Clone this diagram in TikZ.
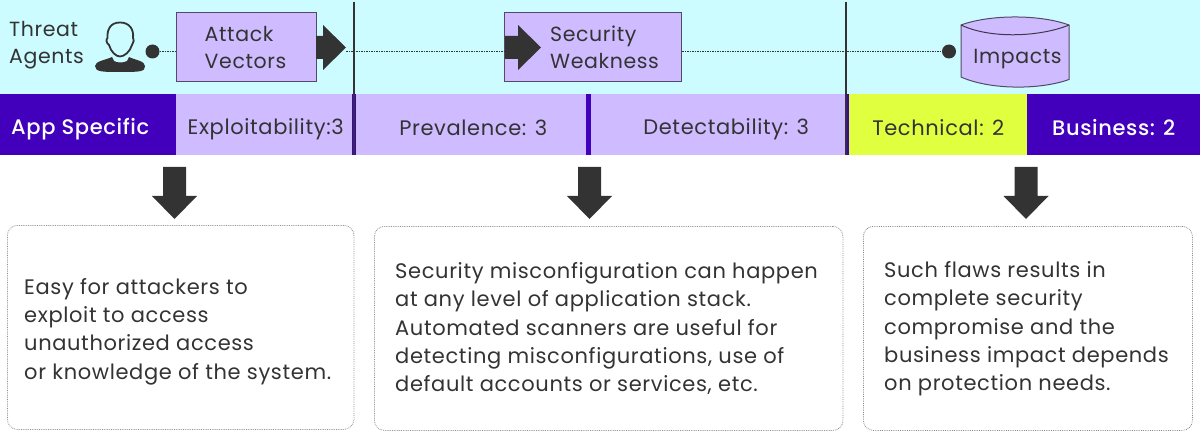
\documentclass[tikz,border=0pt]{standalone}
\usepackage{fontspec}
\setmainfont{Poppins}[LetterSpace=3]
\newfontfamily\pmed{Poppins Medium}[LetterSpace=3]
\definecolor{skybg}{HTML}{CCFCFF}
\definecolor{lav}{HTML}{CFBBFF}
\definecolor{deep}{HTML}{4200BD}
\definecolor{lime}{HTML}{DFFF3F}
\definecolor{ink}{HTML}{333333}
\tikzset{
  band/.style={anchor=north west,inner sep=0pt,minimum height=61pt,text=ink,font=\fontsize{21}{24}\selectfont},
  basehi/.style={text height=40pt,text depth=21pt},
  baselo/.style={text height=41.7pt,text depth=19.3pt},
  bandw/.style={band,fill=deep,text=white,font=\pmed\fontsize{21}{24}\selectfont},
  bandl/.style={band,fill=lav},
  toptext/.style={inner sep=0pt,text=ink,align=left,font=\fontsize{20.5}{27}\selectfont},
  riskbox/.style={anchor=north west,inner sep=0pt,rounded corners=10pt,draw=black!45,densely dotted,line width=.8pt},
  body/.style={anchor=west,inner sep=0pt,align=left,text=ink,font=\fontsize{21}{28.3}\selectfont},
  lavbox/.style={anchor=north west,inner sep=0pt,fill=lav,draw=black!60!lav,line width=1pt},
  dotline/.style={ink,line width=1.5pt,dash pattern=on 1.5pt off 1pt},
  sep/.style={ink,line width=2pt},
  pip/.style={circle,fill=ink,minimum size=14pt,inner sep=0pt},
  bigarrow/.style={fill=ink,draw=none}
}
\begin{document}
\begin{tikzpicture}[x=1pt,y=-1pt]
\useasboundingbox (0,0) rectangle (1200,441);
\fill[skybg] (0,0) rectangle (1200,94);
% bands
\node[bandw,basehi,minimum width=176pt] (app) at (0,94) {\hspace*{-16pt}App Specific};
\node[bandl,basehi,minimum width=176pt] (expl) at (176,94) {\hspace*{3pt}Exploitability:3};
\node[bandl,baselo,minimum width=230pt] (prev) at (356,94) {\hspace*{4pt}Prevalence: 3};
\node[bandl,basehi,minimum width=255pt] (detect) at (591,94) {\hspace*{15pt}Detectability: 3};
\node[band,baselo,fill=lime,minimum width=178pt] (tech) at (849,94) {Technical: 2};
\node[bandw,baselo,minimum width=173pt] (bus) at (1027,94) {Business: 2};
\fill[deep] (586,94) rectangle (591,155);
\fill[deep] (352,94) rectangle (356,155);
\fill[deep] (846,94) rectangle (849,155);
\coordinate (s1a) at (354,2); \coordinate (s1b) at (354,155);
\coordinate (s2a) at (846,2); \coordinate (s2b) at (846,155);
% top row
\node[toptext,anchor=west] (threat) at (9,45) {Threat\\Agents};
% person
\fill[ink] (95,66) .. controls (95,61) and (106,60) .. (112,57) -- (114,61) .. controls (117,63) and (124,63) .. (127,61) -- (129,57) .. controls (135,60) and (145,61) .. (145,66) .. controls (146,72) and (138,72) .. (120,72) .. controls (103,72) and (95,72) .. (95,66) -- cycle;
\draw[ink,line width=1.8pt,fill=skybg] (120,22.5) .. controls (110,22.5) and (107,30) .. (107.5,38) .. controls (106,39) and (106,43) .. (109,45) .. controls (111,52) and (116,56.5) .. (120,56.5) .. controls (124,56.5) and (130,52) .. (132,45) .. controls (134,43) and (134,39) .. (133,38) .. controls (134,30) and (130,22.5) .. (120,22.5) -- cycle;
\node[pip] (dot1) at (152.5,51.5) {};
\node[lavbox,minimum width=139.5pt,minimum height=69pt] (attack) at (176,12.5) {};
\node[toptext,anchor=west] (attackt) at (204.5,47.5) {Attack\\Vectors};
\coordinate (arrtip1) at (346,47.5);
\node[lavbox,minimum width=177pt,minimum height=69pt] (weak) at (504,12.5) {};
\node[toptext,anchor=west] (weakt) at (550,47.5) {Security\\Weakness};
\node[pip] (dot2) at (949,51.5) {};
% cylinder
\draw[fill=lav,draw=black!60!lav,line width=1pt] (961,25) .. controls (990,14.3) and (1040,14.3) .. (1069,25) -- (1069,79.5) .. controls (1040,90) and (990,90) .. (961,77) -- cycle;
\draw[draw=black!70!lav,line width=1pt] (961,25) .. controls (990,39) and (1040,37) .. (1069,25);
\coordinate (cyl) at (961,51);
\node[inner sep=0pt,text=ink,font=\fontsize{20.5}{24}\selectfont] (imp) at (1017.5,59) {Impacts};
% connectors
\draw[dotline] (dot1) -- (attack.west |- dot1);
\draw[dotline] (arrtip1 |- dot1) -- (weak.west |- dot1);
\draw[dotline] (weak.east |- dot1) -- (dot2);
% block arrows
\fill[bigarrow] (316,36) -- (323,36) -- (323,25) -- (346,47.5) -- (323,70) -- (323,59) -- (316,59) -- cycle;
\fill[bigarrow] (505,36) -- (518,36) -- (518,25) -- (541,47.5) -- (518,70) -- (518,59) -- (505,59) -- cycle;
\draw[sep] (s1a) -- (s1b);
\draw[sep] (s2a) -- (s2b);
% down arrows
\foreach \n/\c in {a/174.5,b/589.5,c/1026}{
  \fill[bigarrow] (\c-11.5,167) -- (\c+11.5,167) -- (\c+11.5,196) -- (\c+22.5,196) -- (\c,219) -- (\c-22.5,196) -- (\c-11.5,196) -- cycle;
}
% text boxes
\node[riskbox,minimum width=346.5pt,minimum height=204pt] (b1) at (7,225) {};
\node[riskbox,minimum width=468.5pt,minimum height=204pt] (b2) at (374,226) {};
\node[riskbox,minimum width=329pt,minimum height=204pt] (b3) at (863,226) {};
\node[body] (t1) at (24,331.5) {Easy for attackers to\\exploit to access\\unauthorized access\\or knowledge of the system.};
\node[body] (t2) at (395,328.5) {Security misconfiguration can happen\\at any level of application stack.\\Automated scanners are useful for\\detecting misconfigurations, use of\\default accounts or services, etc.};
\node[body] (t3) at (884,329) {Such flaws results in\\complete security\\compromise and the\\business impact depends\\on protection needs.};
\end{tikzpicture}
\end{document}
